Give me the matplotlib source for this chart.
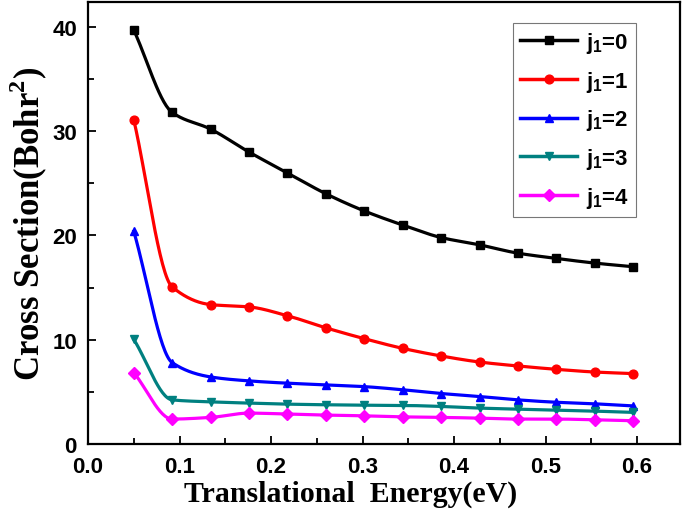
import numpy as np
import matplotlib
matplotlib.use("Agg")
import matplotlib.pyplot as plt

energy = [0.05, 0.092, 0.134, 0.176, 0.218, 0.26, 0.302, 0.344, 0.386, 0.428, 0.47, 0.512, 0.554, 0.596]
j0 = [39.7, 31.8, 30.2, 28.0, 26.0, 24.0, 22.35, 21.0, 19.8, 19.1, 18.3, 17.8, 17.35, 17.0]
j1 = [31.1, 15.06, 13.37, 13.15, 12.3, 11.14, 10.1, 9.17, 8.44, 7.86, 7.48, 7.16, 6.9, 6.75]
j2 = [20.4, 7.8, 6.43, 6.05, 5.83, 5.67, 5.5, 5.2, 4.84, 4.55, 4.23, 4.0, 3.85, 3.65]
j3 = [10.03, 4.23, 4.04, 3.92, 3.82, 3.76, 3.72, 3.7, 3.6, 3.44, 3.34, 3.25, 3.15, 3.03]
j4 = [6.85, 2.39, 2.55, 2.96, 2.87, 2.77, 2.7, 2.6, 2.55, 2.48, 2.39, 2.39, 2.32, 2.23]
labels = ["0", "1", "2", "3", "4"]
colors = ["#000000", "#ff0000", "#0000ff", "#008080", "#ff00ff"]
markers = ["s", "o", "^", "v", "D"]
xticks = [0.0, 0.1, 0.2, 0.3, 0.4, 0.5, 0.6]
yticks = [0, 10, 20, 30, 40]

plt.rcParams['mathtext.fontset'] = 'custom'
plt.rcParams['mathtext.sf'] = 'Liberation Sans:bold'
plt.rcParams['mathtext.bf'] = 'Liberation Serif:bold'
plt.rcParams['mathtext.rm'] = 'Liberation Serif:bold'


def pchip(x, y, xs):
    x = np.asarray(x, float); y = np.asarray(y, float)
    h = np.diff(x); d = np.diff(y) / h
    n = len(x); m = np.zeros(n)
    for k in range(1, n - 1):
        if d[k - 1] * d[k] > 0:
            w1 = 2 * h[k] + h[k - 1]; w2 = h[k] + 2 * h[k - 1]
            m[k] = (w1 + w2) / (w1 / d[k - 1] + w2 / d[k])
    m[0] = d[0]; m[-1] = d[-1]
    idx = np.clip(np.searchsorted(x, xs) - 1, 0, n - 2)
    t = (xs - x[idx]) / h[idx]
    h00 = 2 * t**3 - 3 * t**2 + 1; h10 = t**3 - 2 * t**2 + t
    h01 = -2 * t**3 + 3 * t**2; h11 = t**3 - t**2
    return h00 * y[idx] + h10 * h[idx] * m[idx] + h01 * y[idx + 1] + h11 * h[idx] * m[idx + 1]


fig = plt.figure(figsize=(6.85, 5.10), dpi=100)
ax = fig.add_axes([0.1285, 0.1275, 0.8642, 0.8667])

xs = np.linspace(energy[0], energy[-1], 400)
for ys, lab, c, mk in zip([j0, j1, j2, j3, j4], labels, colors, markers):
    ax.plot(xs, pchip(energy, ys, xs), color=c, lw=2.3)
    ms = 5.8 if mk == 'D' else 6.3
    ax.plot(energy, ys, linestyle='none', marker=mk, color=c, ms=ms)
    ax.plot([], [], color=c, lw=2.5, marker=mk, ms=ms,
            label=r'$\mathsf{j_1}$' + '=' + lab)

ax.set_xlim(0.0, 0.647)
ax.set_ylim(0, 42.4)
ax.set_xticks(xticks)
ax.set_yticks(yticks)
ax.set_xticks(np.arange(0.05, 0.65, 0.1), minor=True)
ax.set_yticks(np.arange(5, 42, 10), minor=True)
ax.tick_params(which='both', direction='in', width=1.3, top=False, right=False)
ax.tick_params(which='major', length=6)
ax.tick_params(which='minor', length=4)
ax.tick_params(axis='x', which='major', pad=9)
ax.tick_params(axis='y', which='major', pad=8)
for lab in ax.get_xticklabels() + ax.get_yticklabels():
    lab.set_fontfamily('Liberation Sans')
    lab.set_fontweight('bold')
    lab.set_fontsize(16)
for s in ax.spines.values():
    s.set_linewidth(1.6)

ax.set_xlabel('Translational  Energy(eV)', fontfamily='Liberation Serif',
              fontweight='bold', fontsize=21.5, va='baseline')
ax.xaxis.set_label_coords(0.443, -0.129)
ax.set_ylabel(r'Cross Section(Bohr$^{\mathbf{2}}$)', fontfamily='Liberation Serif',
              fontweight='bold', fontsize=25, va='center')
ax.yaxis.set_label_coords(-0.1, 0.5)

leg = ax.legend(loc='upper right', bbox_to_anchor=(0.926, 0.952), frameon=True,
                fancybox=False, edgecolor='#555555', handlelength=2.6,
                prop={'family': 'Liberation Sans', 'weight': 'bold', 'size': 16},
                labelspacing=0.62, borderpad=0.3, handletextpad=0.4,
                borderaxespad=0)
leg.get_frame().set_linewidth(0.8)

fig.savefig('out.png', dpi=100)
